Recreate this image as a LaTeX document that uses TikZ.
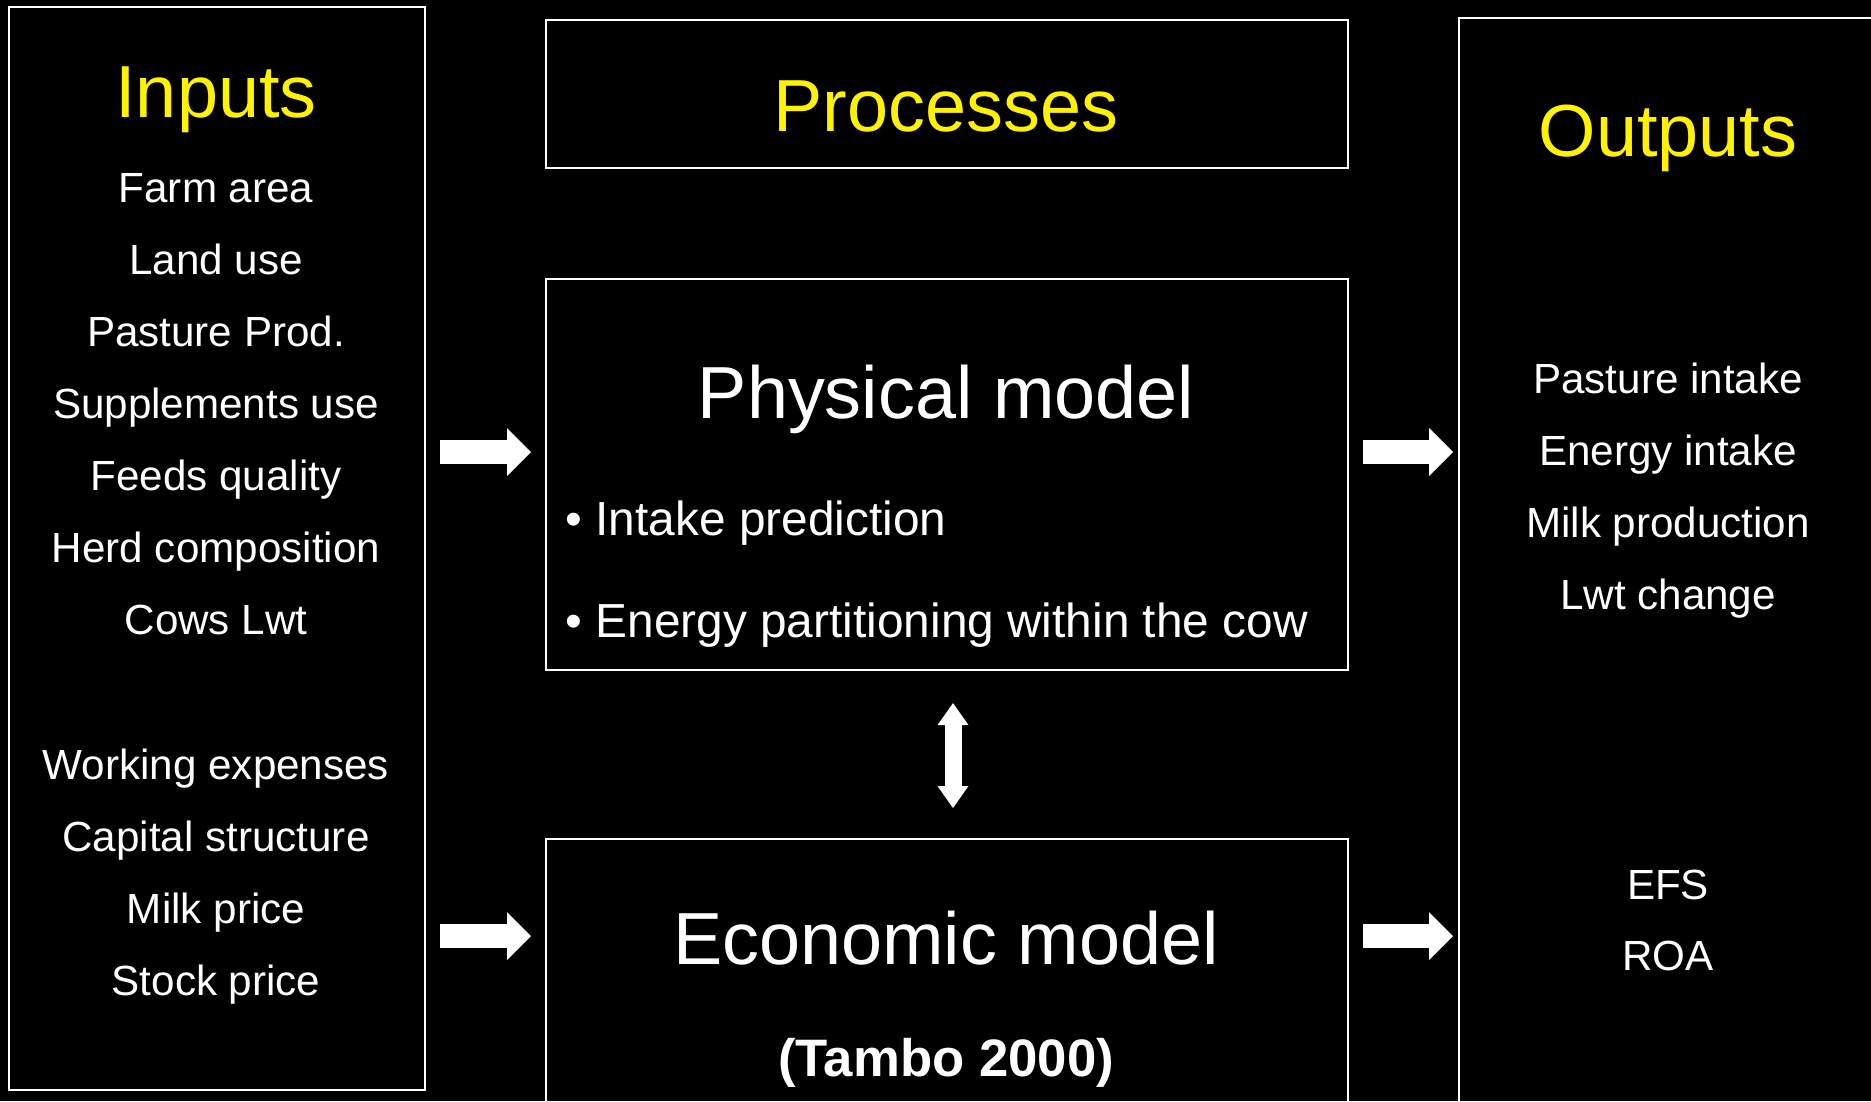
\documentclass[tikz,border=0pt]{standalone}
\usepackage{fontspec}
\setmainfont{Liberation Sans}
\usetikzlibrary{arrows.meta}

\begin{document}
\begin{tikzpicture}[x=0.1mm,y=-0.1mm,
  frame/.style={draw=white,line width=0.6pt,inner sep=0pt,anchor=north west},
  heading/.style={text=yellow,font=\fontsize{21}{25}\selectfont,text height=0.72em,text depth=0pt,inner sep=0pt},
  title/.style={text=white,font=\fontsize{21}{25}\selectfont,text height=0.72em,text depth=0pt,inner sep=0pt},
  item/.style={text=white,font=\fontsize{12}{14}\selectfont,text height=0.72em,text depth=0pt,inner sep=0pt},
  point/.style={text=white,font=\fontsize{13.6}{16}\selectfont,inner sep=0pt,anchor=base west},
  blockarrow/.style={draw=white,line width=2.4mm,-{Triangle[length=2.4mm,width=4.8mm,line width=0pt]}},
  twoway/.style={draw=white,line width=1.7mm,{Triangle[length=2.2mm,width=3.1mm,line width=0pt]}-{Triangle[length=2.2mm,width=3.1mm,line width=0pt]}}]
\clip (0,0) rectangle (1871,1101);
\fill [black] (0,0) rectangle (1871,1101);
\node [frame,minimum width=41.6mm,minimum height=108.3mm] (inputs) at (8,6) {};
\node [frame,minimum width=80.2mm,minimum height=14.8mm] (procs) at (545,19) {};
\node [frame,minimum width=80.2mm,minimum height=39.1mm] (phys) at (545,278) {};
\node [frame,minimum width=80.2mm,minimum height=30mm] (econ) at (545,838) {};
\node [frame,minimum width=45mm,minimum height=110mm] (outputs) at (1458,17) {};
\node [heading] (inhead) at (216,105) {Inputs};
\node [heading] (prochead) at (946,119) {Processes};
\node [heading] (outhead) at (1668,144) {Outputs};
\node [item] (farm) at (216,190) {Farm area};
\node [item] (land) at (216,262) {Land use};
\node [item] (pasture) at (216,334) {Pasture Prod.};
\node [item] (suppl) at (216,406) {Supplements use};
\node [item] (feeds) at (216,478) {Feeds quality};
\node [item] (herd) at (216,550) {Herd composition};
\node [item] (lwt) at (216,622) {Cows Lwt};
\node [item] (expenses) at (216,767) {Working expenses};
\node [item] (capital) at (216,839) {Capital structure};
\node [item] (milkprice) at (216,911) {Milk price};
\node [item] (stockprice) at (216,983) {Stock price};
\node [title] (physhead) at (946,406) {Physical model};
\node [point] (intake) at (565,535) {• Intake prediction};
\node [point] (energy) at (565,637) {• Energy partitioning within the cow};
\node [title] (econhead) at (946,952) {Economic model};
\node [title,font=\fontsize{15}{18}\selectfont\bfseries] (tambo) at (946,1064) {(Tambo 2000)};
\node [item] (pintake) at (1668,381) {Pasture intake};
\node [item] (eintake) at (1668,453) {Energy intake};
\node [item] (milkprod) at (1668,525) {Milk production};
\node [item] (lwtchange) at (1668,597) {Lwt change};
\node [item] (efs) at (1668,887) {EFS};
\node [item] (roa) at (1668,958) {ROA};
\coordinate (rowA) at (0,452);
\coordinate (rowB) at (0,936);
\coordinate (colC) at (953,0);
\draw [blockarrow,shorten <=1.4mm,shorten >=1.4mm] (inputs.east |- rowA) -- (phys.west |- rowA);
\draw [blockarrow,shorten <=1.4mm,shorten >=1.4mm] (inputs.east |- rowB) -- (econ.west |- rowB);
\draw [blockarrow,shorten <=1.4mm,shorten >=0.5mm] (phys.east |- rowA) -- (outputs.west |- rowA);
\draw [blockarrow,shorten <=1.4mm,shorten >=0.5mm] (econ.east |- rowB) -- (outputs.west |- rowB);
\draw [twoway,shorten <=3.2mm,shorten >=3mm] (phys.south -| colC) -- (econ.north -| colC);
\end{tikzpicture}
\end{document}
